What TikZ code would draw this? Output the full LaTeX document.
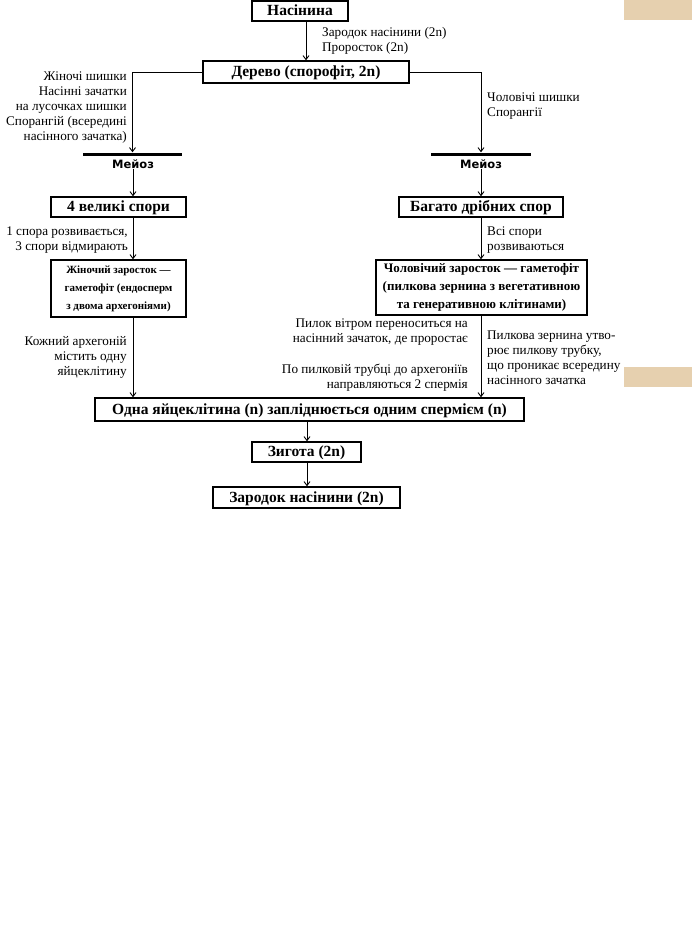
\documentclass[tikz,border=0pt]{standalone}
\usepackage{fontspec}
\setmainfont{Liberation Serif}
\newfontfamily\meifont{DejaVu Sans}
\usetikzlibrary{arrows.meta}
\definecolor{beige}{HTML}{E6D0AF}
\begin{document}
\begin{tikzpicture}[x=1pt,y=-1pt,
  basebox/.style={draw, line width=1.4pt, inner sep=0pt, align=center},
  box/.style={basebox, text height=1.0em, text depth=0.1em, font=\bfseries\fontsize{15.5}{17}\selectfont},
  fbox/.style={basebox, font=\bfseries\fontsize{11}{18}\selectfont},
  mbox/.style={basebox, font=\bfseries\fontsize{13}{18}\selectfont},
  lbl/.style={inner sep=0pt, font=\fontsize{13.2}{15}\selectfont},
  conn/.style={line width=0.9pt, -{Straight Barb[length=4pt,width=6pt]}},
  bar/.style={fill=black, inner sep=0pt, minimum height=3pt},
  mei/.style={inner sep=0pt, font=\meifont\bfseries\fontsize{11.5}{12}\selectfont}]
\useasboundingbox (0,0) rectangle (692,934);
\fill[beige] (624,0) rectangle (692,20);
\fill[beige] (624,367) rectangle (692,387);
\coordinate (axL) at (133,0);
\coordinate (axR) at (481,0);
\coordinate (axC) at (307,0);
% boxes
\node[box, minimum width=96, minimum height=20] (seed) at (300,11) {Насінина};
\node[box, minimum width=206, minimum height=22] (tree) at (306,72) {Дерево (спорофіт, 2n)};
\node[bar, minimum width=99] (barL) at (132.5,154) {};
\node[bar, minimum width=100] (barR) at (481,154) {};
\node[mei] (meiL) at (133,164) {Мейоз};
\node[mei] (meiR) at (481,164) {Мейоз};
\node[box, minimum width=135, minimum height=20] (big) at (118.5,207) {4 великі спори};
\node[box, minimum width=164, minimum height=20] (many) at (481,207) {Багато дрібних спор};
\node[fbox, minimum width=135, minimum height=57] (fem) at (118.5,288.5) {Жіночий заросток —\\гаметофіт (ендосперм\\з двома архегоніями)};
\node[mbox, minimum width=211, minimum height=55] (male) at (481.5,287.5) {Чоловічий заросток — гаметофіт\\(пилкова зернина з вегетативною\\та генеративною клітинами)};
\node[box, minimum width=429, minimum height=23] (egg) at (309.5,409.5) {Одна яйцеклітина (n) запліднюється одним спермієм (n)};
\node[box, minimum width=109, minimum height=20] (zyg) at (306.5,452) {Зигота (2n)};
\node[box, minimum width=187, minimum height=21] (emb) at (306.5,497.5) {Зародок насінини (2n)};
% labels
\node[lbl, anchor=west, align=left] (lt) at (322,41) {Зародок насінини (2n)\\Проросток (2n)};
\node[lbl, anchor=east, align=right] (ll1) at (127,108) {Жіночі шишки\\Насінні зачатки\\на лусочках шишки\\Спорангій (всередині\\насінного зачатка)};
\node[lbl, anchor=west, align=left] (lr1) at (487,106) {Чоловічі шишки\\Спорангії};
\node[lbl, anchor=east, align=right] (ll2) at (128,240) {1 спора розвивається,\\3 спори відмирають};
\node[lbl, anchor=west, align=left] (lr2) at (487,240) {Всі спори\\розвиваються};
\node[lbl, anchor=east, align=right] (ll3) at (127,357) {Кожний архегоній\\містить одну\\яйцеклітину};
\node[lbl, anchor=east, align=right] (lm1) at (468,332.5) {Пилок вітром переноситься на\\насінний зачаток, де проростає};
\node[lbl, anchor=east, align=right] (lm2) at (468,377.5) {По пилковій трубці до архегоніїв\\направляються 2 спермія};
\node[lbl, anchor=west, align=left] (lr3) at (487,358) {Пилкова зернина утво-\\рює пилкову трубку,\\що проникає всередину\\насінного зачатка};
% connectors
\draw[conn] (tree.north |- seed.south) -- (tree.north);
\draw[conn] (tree.west) -| (barL.north);
\draw[conn] (tree.east) -| (barR.north);
\draw[conn] (meiL.south) -- (big.north -| axL);
\draw[conn] (meiR.south) -- (many.north -| axR);
\draw[conn] (big.south -| axL) -- (fem.north -| axL);
\draw[conn] (many.south -| axR) -- (male.north -| axR);
\draw[conn] (fem.south -| axL) -- (egg.north -| axL);
\draw[conn] (male.south -| axR) -- (egg.north -| axR);
\draw[conn] (egg.south -| axC) -- (zyg.north -| axC);
\draw[conn] (zyg.south -| axC) -- (emb.north -| axC);
\end{tikzpicture}
\end{document}
